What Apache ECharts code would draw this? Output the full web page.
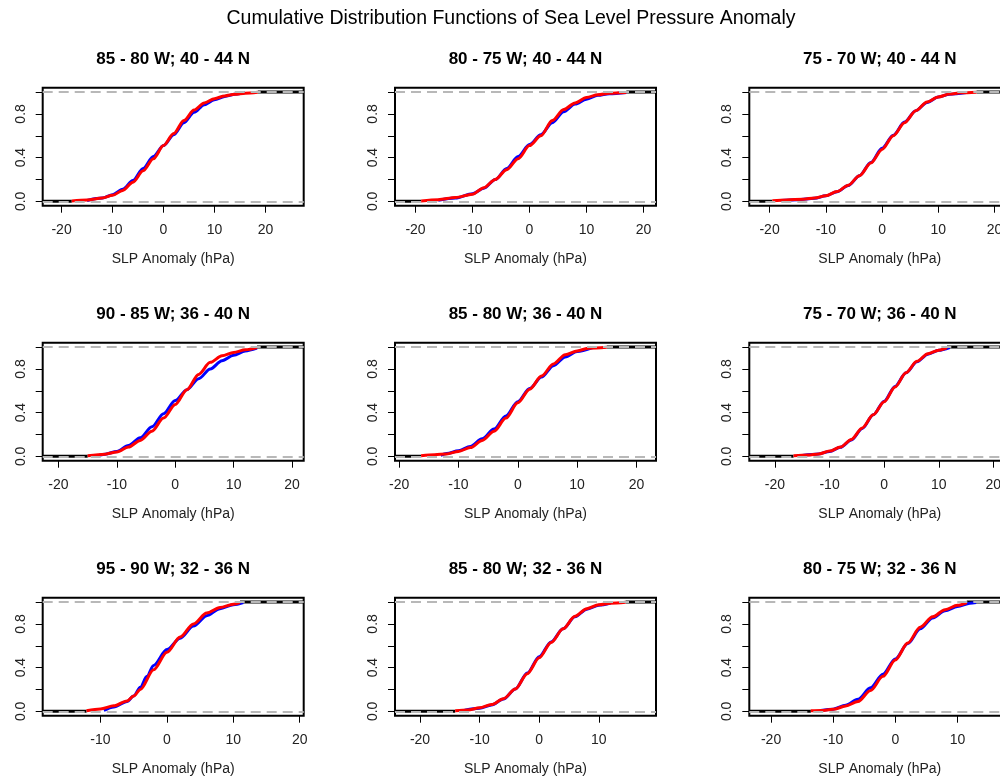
<!DOCTYPE html>
<html>
<head>
<meta charset="utf-8">
<script src="https://cdn.jsdelivr.net/npm/echarts@6/dist/echarts.min.js"></script>
<style>
  html, body { margin: 0; padding: 0; background: #fff; }
  #chart { width: 1000px; height: 777px; }
</style>
</head>
<body>
<div id="chart"></div>
<script>
// --- data ---
const mainTitle = 'Cumulative Distribution Functions of Sea Level Pressure Anomaly';
const panelTitles = [
  '85 - 80 W; 40 - 44 N', '80 - 75 W; 40 - 44 N', '75 - 70 W; 40 - 44 N',
  '90 - 85 W; 36 - 40 N', '85 - 80 W; 36 - 40 N', '75 - 70 W; 36 - 40 N',
  '95 - 90 W; 32 - 36 N', '85 - 80 W; 32 - 36 N', '80 - 75 W; 32 - 36 N'
];
const xName = 'SLP Anomaly (hPa)';
const xMin = [-23.7, -23.6, -23.6, -22.7, -20.7, -24.7, -18.7, -24.2, -23.5];
const xMax = [27.5, 22.2, 22.8, 22.0, 23.3, 23.1, 20.6, 19.6, 18.5];
const xTicks = [
  [-20, -10, 0, 10, 20], [-20, -10, 0, 10, 20], [-20, -10, 0, 10, 20],
  [-20, -10, 0, 10, 20], [-20, -10, 0, 10, 20], [-20, -10, 0, 10, 20],
  [-10, 0, 10, 20], [-20, -10, 0, 10], [-20, -10, 0, 10]
];
const yTicks = [0, 0.2, 0.4, 0.6, 0.8, 1.0];
const yLabels = [0, 0.4, 0.8];

// blue curves [x, F(x)]
const blueCurves = [
  [[-15,0.008],[-12,0.03],[-10,0.06],[-8,0.11],[-6,0.19],[-4,0.3],[-2,0.41],[0,0.51],[2,0.61],[4,0.72],[6,0.815],[8,0.885],[10,0.93],[12,0.96],[14,0.98],[16,0.995]],
  [[-16,0.01],[-13,0.03],[-10,0.07],[-8,0.12],[-6,0.2],[-4,0.3],[-2,0.41],[0,0.52],[2,0.61],[4,0.72],[6,0.82],[8,0.89],[10,0.935],[12,0.97],[14,0.985],[17,0.997]],
  [[-18,0.008],[-15,0.014],[-12,0.028],[-10,0.05],[-8,0.088],[-6,0.145],[-4,0.235],[-2,0.355],[0,0.485],[2,0.605],[4,0.725],[6,0.83],[8,0.905],[10,0.955],[12,0.98],[15,0.995]],
  [[-13,0.01],[-12,0.02],[-10,0.045],[-8,0.1],[-6,0.17],[-4,0.27],[-2,0.39],[0,0.51],[2,0.61],[4,0.71],[6,0.8],[8,0.875],[10,0.925],[12,0.965],[14,0.99]],
  [[-13,0.01],[-12,0.025],[-10,0.05],[-8,0.09],[-6,0.16],[-4,0.25],[-2,0.37],[0,0.5],[2,0.62],[4,0.725],[6,0.83],[8,0.91],[10,0.96],[12.6,0.995]],
  [[-15,0.008],[-12,0.022],[-10,0.045],[-8,0.082],[-6,0.15],[-4,0.255],[-2,0.38],[0,0.505],[2,0.64],[4,0.765],[6,0.865],[8,0.935],[10,0.97],[12,0.995]],
  [[-9.5,0.008],[-8,0.04],[-6,0.09],[-5,0.14],[-4,0.22],[-3,0.32],[-2,0.42],[0,0.565],[2,0.67],[4,0.78],[6,0.875],[8,0.94],[10,0.975],[11.5,0.995]],
  [[-12.5,0.01],[-10,0.028],[-8,0.058],[-6,0.112],[-4,0.205],[-2,0.35],[0,0.5],[2,0.635],[4,0.755],[6,0.865],[8,0.935],[10,0.97],[12,0.99]],
  [[-12,0.007],[-10,0.02],[-8,0.055],[-6,0.11],[-4,0.215],[-2,0.34],[0,0.48],[2,0.62],[4,0.755],[6,0.855],[8,0.92],[10,0.96],[12,0.99],[13,0.997]]
];

// red curves [x, F(x)]
const redCurves = [
  [[-18,0.004],[-15,0.012],[-12,0.03],[-10,0.055],[-8,0.1],[-6,0.175],[-4,0.28],[-2,0.39],[0,0.51],[2,0.62],[4,0.74],[6,0.835],[8,0.9],[10,0.94],[12,0.965],[14,0.98],[16,0.99],[18.5,0.998]],
  [[-19,0.004],[-16,0.015],[-13,0.035],[-10,0.065],[-8,0.125],[-6,0.2],[-4,0.29],[-2,0.39],[0,0.51],[2,0.6],[4,0.74],[6,0.84],[8,0.9],[10,0.95],[12,0.975],[14,0.99],[17,0.997]],
  [[-19.5,0.005],[-17,0.012],[-14,0.02],[-12,0.03],[-10,0.052],[-8,0.09],[-6,0.148],[-4,0.235],[-2,0.35],[0,0.475],[2,0.6],[4,0.72],[6,0.83],[8,0.91],[10,0.955],[12,0.982],[14,0.993],[16.8,0.998]],
  [[-15,0.005],[-12,0.02],[-10,0.04],[-8,0.085],[-6,0.145],[-4,0.23],[-2,0.35],[0,0.475],[2,0.61],[4,0.75],[6,0.86],[8,0.92],[10,0.95],[12,0.975],[14,0.995]],
  [[-16.3,0.005],[-14,0.015],[-12,0.022],[-10,0.045],[-8,0.08],[-6,0.145],[-4,0.23],[-2,0.35],[0,0.49],[2,0.615],[4,0.735],[6,0.845],[8,0.93],[10,0.965],[12,0.99],[15,0.998]],
  [[-16.6,0.005],[-14,0.012],[-12,0.022],[-10,0.048],[-8,0.085],[-6,0.155],[-4,0.26],[-2,0.38],[0,0.5],[2,0.635],[4,0.765],[6,0.87],[8,0.94],[10,0.972],[11.5,0.995]],
  [[-12.1,0.005],[-10,0.022],[-8,0.05],[-6,0.095],[-5,0.14],[-4,0.2],[-2,0.38],[0,0.54],[2,0.68],[4,0.8],[6,0.9],[8,0.95],[10,0.98],[11,0.995]],
  [[-14.1,0.005],[-12,0.012],[-10,0.032],[-8,0.062],[-6,0.115],[-4,0.205],[-2,0.345],[0,0.49],[2,0.63],[4,0.755],[6,0.87],[8,0.94],[10,0.975],[12,0.99],[14.5,0.998]],
  [[-13.6,0.005],[-12,0.008],[-10,0.018],[-8,0.048],[-6,0.09],[-4,0.19],[-2,0.32],[0,0.47],[2,0.625],[4,0.77],[6,0.865],[8,0.93],[10,0.97],[11.5,0.995]]
];

// where the black (all data) step line leaves 0 and reaches 1
const blackTails = [
  [-18, 18.5], [-19, 17], [-19.5, 16.8],
  [-15, 14], [-16.3, 15], [-16.6, 11.5],
  [-12.1, 11], [-14.1, 14.5], [-13.6, 11.5]
];

// --- layout ---
const FONT = "'Liberation Sans', Arial, sans-serif";
const colLeft = [42.7, 395, 749.3];
const rowTop = [87.7, 342.7, 597.7];
const panelW = 261;
const panelH = 118;

const grids = [];
const xAxes = [];
const yAxes = [];
const series = [];
const titles = [{
  text: mainTitle,
  left: 511,
  top: 9,
  textAlign: 'center',
  padding: 0,
  textStyle: { fontFamily: FONT, fontSize: 19.5, fontWeight: 'normal', color: '#000' }
}];

const lineBase = {
  type: 'line',
  showSymbol: false,
  symbol: 'none',
  smooth: 0.3,
  smoothMonotone: 'x',
  silent: true,
  animation: false
};

panelTitles.forEach((t, i) => {
  const r = Math.floor(i / 3);
  const c = i % 3;
  titles.push({
    text: t,
    left: colLeft[c] + panelW / 2,
    top: rowTop[r] - 37,
    textAlign: 'center',
    padding: 0,
    textStyle: { fontFamily: FONT, fontSize: 17, fontWeight: 'bold', color: '#000' }
  });
  grids.push({
    left: colLeft[c],
    top: rowTop[r],
    width: panelW,
    height: panelH,
    show: true,
    borderColor: '#000',
    borderWidth: 2,
    backgroundColor: 'transparent',
    outerBoundsMode: 'none',
    containLabel: false
  });
  xAxes.push({
    gridIndex: i,
    type: 'value',
    position: 'bottom',
    min: xMin[i],
    max: xMax[i],
    axisLine: { show: false, onZero: false },
    splitLine: { show: false },
    axisTick: { show: true, length: 7, customValues: xTicks[i], lineStyle: { color: '#000', width: 1 } },
    axisLabel: { customValues: xTicks[i], margin: 17, fontFamily: FONT, fontSize: 14, color: '#222' },
    name: xName,
    nameLocation: 'middle',
    nameGap: 46,
    nameTextStyle: { fontFamily: FONT, fontSize: 14, color: '#222' }
  });
  yAxes.push({
    gridIndex: i,
    type: 'value',
    position: 'left',
    min: -0.04,
    max: 1.04,
    axisLine: { show: false, onZero: false },
    splitLine: { show: false },
    axisTick: { show: true, length: 7, customValues: yTicks, lineStyle: { color: '#000', width: 1 } },
    axisLabel: {
      customValues: yLabels,
      rotate: 90,
      margin: 15,
      fontFamily: FONT,
      fontSize: 14,
      color: '#222',
      formatter: v => Number(v).toFixed(1)
    }
  });

  const tail = blackTails[i];
  series.push(Object.assign({}, lineBase, {
    name: 'all-low', xAxisIndex: i, yAxisIndex: i, z: 2,
    lineStyle: { color: '#000', width: 3 },
    data: [[xMin[i], 0], [tail[0], 0]]
  }));
  series.push(Object.assign({}, lineBase, {
    name: 'all-high', xAxisIndex: i, yAxisIndex: i, z: 2,
    lineStyle: { color: '#000', width: 3 },
    data: [[tail[1], 1], [xMax[i], 1]]
  }));
  series.push(Object.assign({}, lineBase, {
    name: 'blue', xAxisIndex: i, yAxisIndex: i, z: 3,
    lineStyle: { color: '#0000ff', width: 3 },
    data: blueCurves[i]
  }));
  series.push(Object.assign({}, lineBase, {
    name: 'red', xAxisIndex: i, yAxisIndex: i, z: 4,
    lineStyle: { color: '#ff0000', width: 3 },
    data: redCurves[i]
  }));
  // dashed reference lines at 0 and 1, drawn on top
  series.push({
    type: 'line', name: 'ref', xAxisIndex: i, yAxisIndex: i, z: 6,
    data: [], silent: true, animation: false,
    markLine: {
      silent: true,
      animation: false,
      symbol: 'none',
      label: { show: false },
      lineStyle: { color: '#b8b8b8', type: [10, 6], width: 2 },
      data: [{ yAxis: 0 }, { yAxis: 1 }]
    }
  });
});

const chart = echarts.init(document.getElementById('chart'), null, { renderer: 'canvas' });
chart.setOption({
  backgroundColor: '#fff',
  animation: false,
  title: titles,
  grid: grids,
  xAxis: xAxes,
  yAxis: yAxes,
  series: series
});
</script>
</body>
</html>
